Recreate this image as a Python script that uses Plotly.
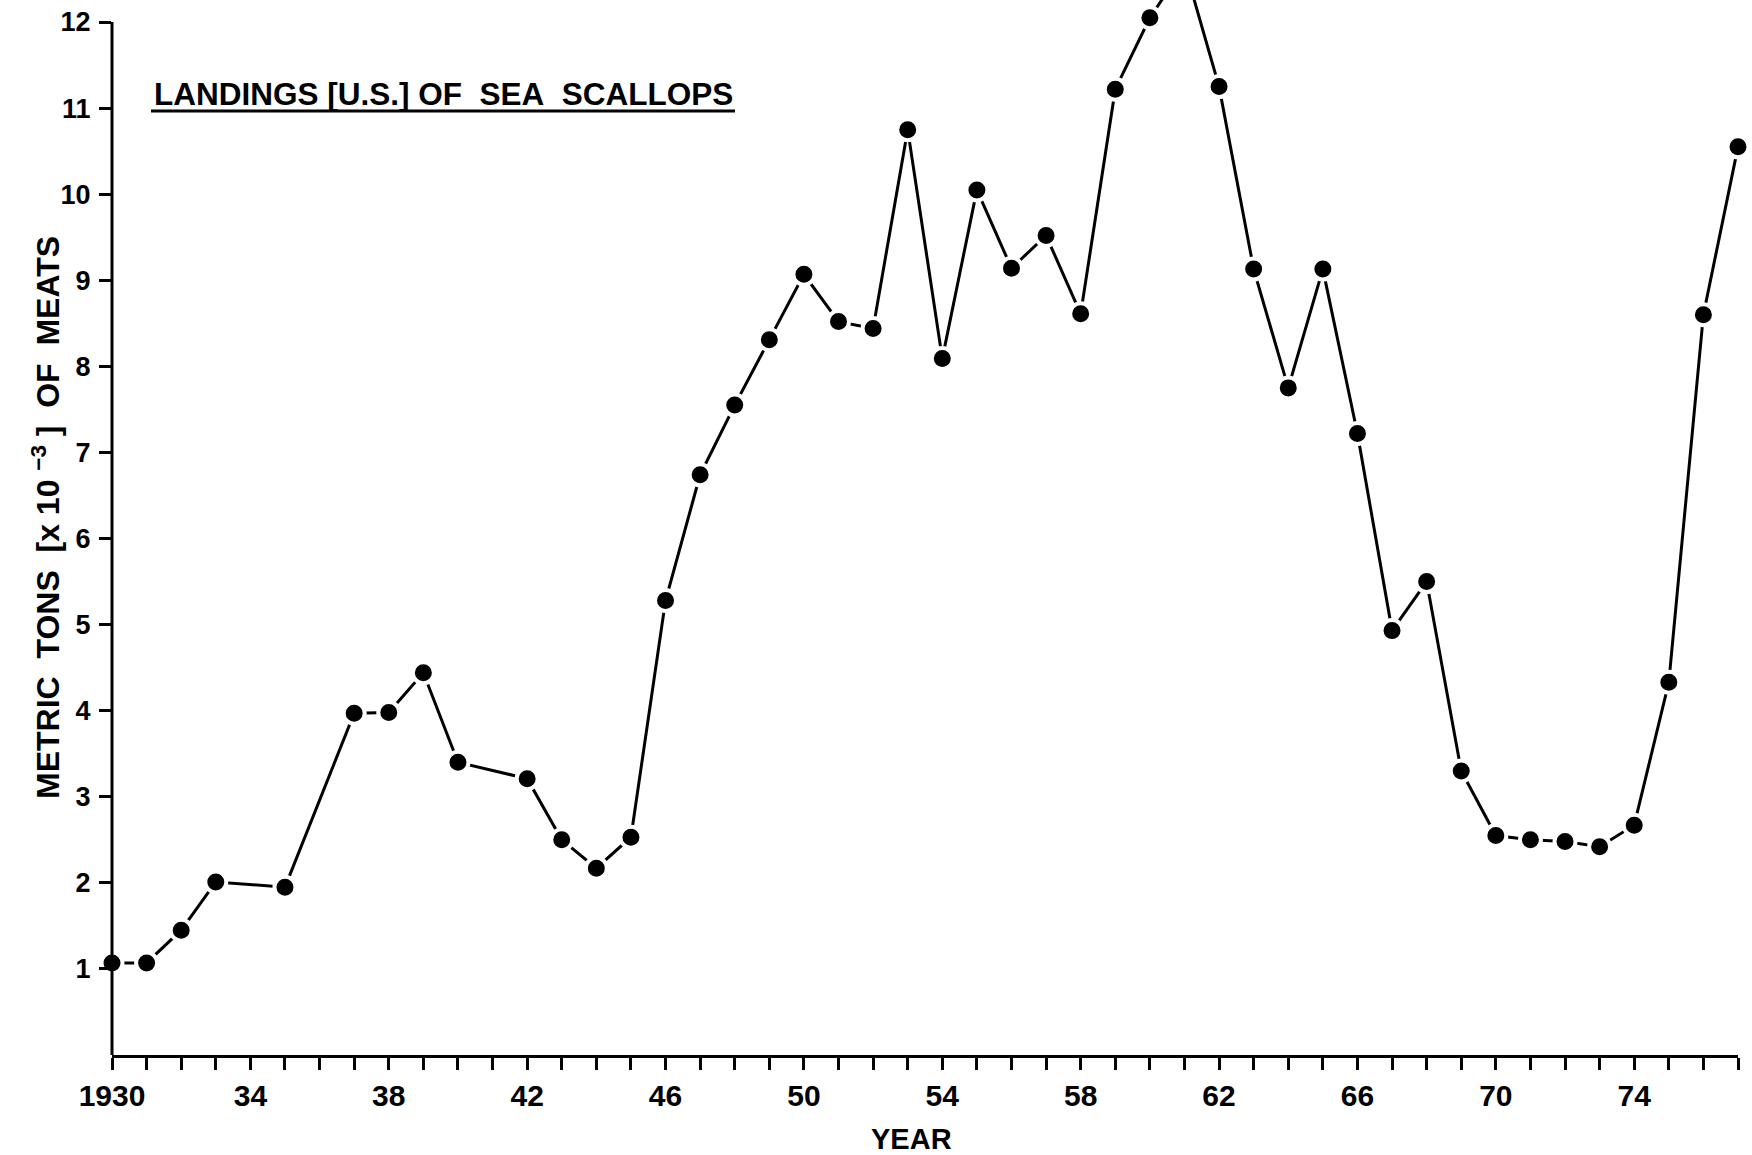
import plotly.graph_objects as go

# U.S. landings of sea scallops, thousands of metric tons of meats
years = [1930, 1931, 1932, 1933, 1935, 1937, 1938, 1939, 1940, 1942,
         1943, 1944, 1945, 1946, 1947, 1948, 1949, 1950, 1951, 1952,
         1953, 1954, 1955, 1956, 1957, 1958, 1959, 1960, 1961, 1962,
         1963, 1964, 1965, 1966, 1967, 1968, 1969, 1970, 1971, 1972,
         1973, 1974, 1975, 1976, 1977]
landings = [1.07, 1.07, 1.45, 2.01, 1.95, 3.97, 3.98, 4.44, 3.40, 3.21,
            2.50, 2.17, 2.53, 5.28, 6.74, 7.55, 8.31, 9.07, 8.52, 8.44,
            10.75, 8.09, 10.05, 9.14, 9.52, 8.61, 11.22, 12.05, 12.65, 11.25,
            9.13, 7.75, 9.13, 7.22, 4.93, 5.50, 3.30, 2.55, 2.50, 2.48,
            2.42, 2.67, 4.33, 8.60, 10.55]

x_label_years = [1930, 1934, 1938, 1942, 1946, 1950, 1954, 1958, 1962, 1966, 1970, 1974]
x_labels = ["1930", "34", "38", "42", "46", "50", "54", "58", "62", "66", "70", "74"]
y_ticks = [1, 2, 3, 4, 5, 6, 7, 8, 9, 10, 11, 12]

W, H = 1752, 1155
ML, MR, MT, MB = 112, 14, 0, 100
PW, PH = W - ML - MR, H - MT - MB
Y_TOP = 12.256

FONT = "Liberation Sans, Arial, Helvetica, sans-serif"


def px_x(px):
    return (px - ML) / PW


def px_y(py):
    return (H - MB - py) / PH


fig = go.Figure()
fig.add_trace(go.Scatter(
    x=years, y=landings, mode="lines+markers",
    line=dict(color="black", width=3),
    marker=dict(size=21, color="black", line=dict(color="white", width=4)),
    cliponaxis=False, showlegend=False, hoverinfo="x+y",
))

axis_font = dict(family=FONT, color="black", weight="bold")

fig.update_layout(
    width=W, height=H,
    margin=dict(l=ML, r=MR, t=MT, b=MB),
    paper_bgcolor="white", plot_bgcolor="white",
    xaxis=dict(
        range=[1930, 1977], showgrid=False, zeroline=False,
        showline=True, linecolor="black", linewidth=3,
        tickmode="array", tickvals=x_label_years, ticktext=x_labels,
        ticks="outside", ticklen=12, tickwidth=3, tickcolor="black",
        ticklabelstandoff=0,
        tickfont=dict(size=30, **axis_font),
        minor=dict(dtick=1, tick0=1930, ticks="outside", ticklen=12,
                   tickwidth=3, tickcolor="black", showgrid=False),
    ),
    yaxis=dict(
        range=[0, Y_TOP], showgrid=False, zeroline=False, showline=False,
        tickmode="array", tickvals=y_ticks,
        ticks="outside", ticklen=12, tickwidth=3, tickcolor="black",
        ticklabelstandoff=3,
        tickfont=dict(size=27, **axis_font),
    ),
)

# vertical axis line, stopping at the top tick
fig.add_shape(type="line", xref="paper", yref="y", x0=0, x1=0, y0=0, y1=12,
              line=dict(color="black", width=3), layer="above")

# underlined heading inside the plot
fig.add_annotation(
    xref="paper", yref="paper", x=px_x(152), y=px_y(94),
    xanchor="left", yanchor="middle", showarrow=False,
    text="LANDINGS [U.S.] OF\u00a0 SEA\u00a0 SCALLOPS",
    font=dict(size=31.5, **axis_font),
)
fig.add_shape(type="line", xref="paper", yref="paper",
              x0=px_x(151), x1=px_x(735), y0=px_y(111), y1=px_y(111),
              line=dict(color="black", width=3))

# axis titles
fig.add_annotation(
    xref="paper", yref="paper", x=px_x(46), y=px_y(518),
    xanchor="center", yanchor="middle", showarrow=False, textangle=-90,
    text="METRIC\u00a0 TONS\u00a0 [x 10 <sup>\u22123</sup>\u00a0]\u00a0 OF\u00a0 MEATS",
    font=dict(size=32, **axis_font),
)
fig.add_annotation(
    xref="paper", yref="paper", x=px_x(911), y=px_y(1139),
    xanchor="center", yanchor="middle", showarrow=False,
    text="YEAR", font=dict(size=29, **axis_font),
)

fig.write_html("out.html")
